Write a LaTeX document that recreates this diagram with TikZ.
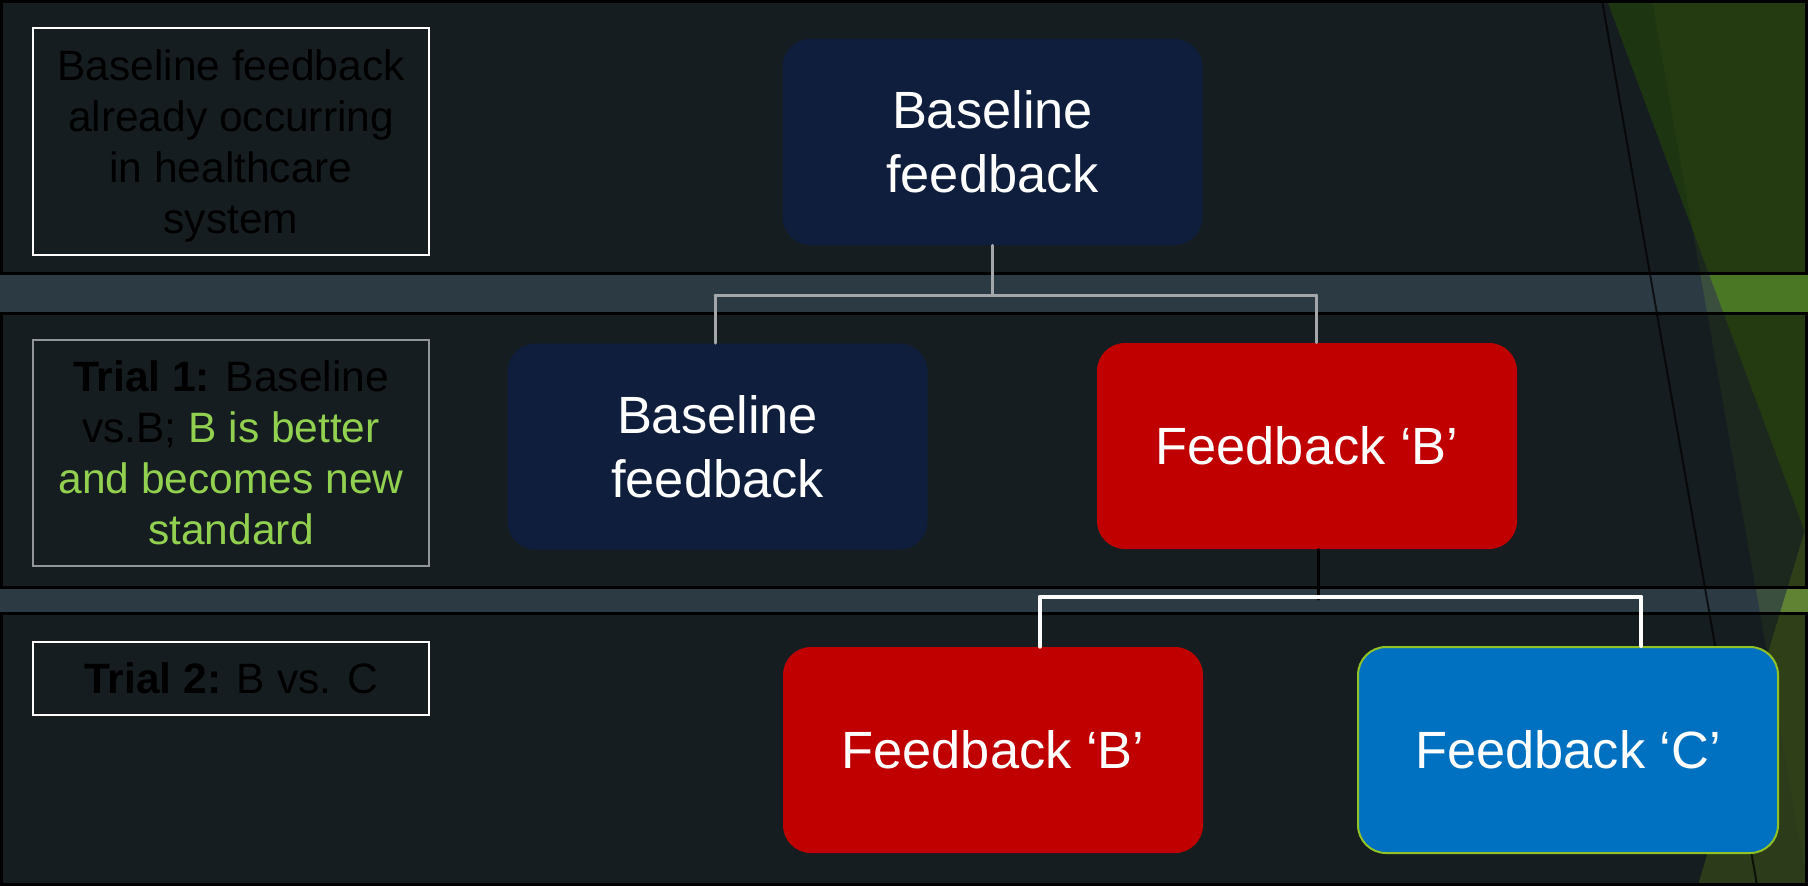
\documentclass[tikz,border=0pt]{standalone}
\usepackage{fontspec}
\setmainfont{Liberation Sans}
\definecolor{bgc}{HTML}{2C3B43}
\definecolor{tgreen}{HTML}{3D6B23}
\definecolor{accent}{HTML}{90C226}
\definecolor{navy}{HTML}{0E1E3C}
\definecolor{redc}{HTML}{C00000}
\definecolor{bluec}{HTML}{0070C0}
\definecolor{lgreen}{HTML}{92D050}
\definecolor{gline}{HTML}{A3A7A9}
\begin{document}
\begin{tikzpicture}[x=0.5pt,y=-0.5pt,
  band/.style={fill=black,fill opacity=0.5,draw=black,draw opacity=1,line width=1.5pt},
  fbox/.style={rounded corners=14pt,minimum width=210pt,minimum height=103pt,align=center,
    text=white,inner sep=0pt,font=\fontsize{26.2}{32}\selectfont},
  lbox/.style={draw=white,line width=1pt,minimum width=198pt,align=center,inner sep=0pt,
    text=black,font=\fontsize{21.25}{25.5}\selectfont},
  grayconn/.style={draw=gline,line width=1.5pt,line cap=round},
  whiteconn/.style={draw=white,line width=2pt,line cap=round},
  blackconn/.style={draw=black,line width=1.5pt,line cap=round}]
\useasboundingbox (0,0) rectangle (1808,885);
\fill[bgc] (0,0) rectangle (1808,885);
% decorative triangles
\fill[tgreen] (1607,0) -- (1808,0) -- (1808,540) -- cycle;
\fill[accent,opacity=0.15] (1652,0) -- (1808,0) -- (1808,885) -- cycle;
\fill[accent,opacity=0.45] (1808,520) -- (1808,885) -- (1698,885) -- cycle;
\draw[black,opacity=0.7,line width=1pt] (1602,0) -- (1757,885);
% bands
\path[band] (1.5,1.5) rectangle (1806.5,273);
\path[band] (1.5,313) rectangle (1806.5,587);
\path[band] (1.5,613) rectangle (1806.5,884);
% left boxes
\node[lbox,minimum height=113.5pt] (lb1) at (231,141.5)
  {Baseline feedback\\already occurring\\in healthcare\\\raisebox{0pt}[\height][0pt]{system}};
\node[lbox,draw=gline!90!black,minimum height=113pt] (lb2) at (231,453)
  {\textbf{Trial 1:} Baseline\\vs.B; \textcolor{lgreen}{B is better}\\\textcolor{lgreen}{and becomes new}\\\textcolor{lgreen}{standard}};
\node[lbox,minimum height=36.5pt] (lb3) at (231,678.5) {\textbf{Trial 2:} B vs. C};
% main nodes
\node[fbox,fill=navy] (top) at (992.5,142) {Baseline\\feedback};
\node[fbox,fill=navy] (b1) at (717.5,446.5) {Baseline\\feedback};
\node[fbox,fill=redc] (fb1) at (1307,446) {Feedback ‘B’};
\node[fbox,fill=redc] (fb2) at (993,750) {Feedback ‘B’};
\node[fbox,fill=bluec,draw=accent,line width=1pt] (fc) at (1568,750) {Feedback ‘C’};
% connectors
\coordinate (j1L) at (715,295);
\coordinate (j1R) at (1316,295);
\draw[grayconn] (top.south) -- (top.south |- j1L);
\draw[grayconn] (j1L) -- (j1R);
\draw[grayconn] (j1L) -- (j1L |- b1.north);
\draw[grayconn] (j1R) -- (j1R |- fb1.north);
\coordinate (j2) at (1318,599);
\coordinate (j2L) at (1040,597);
\coordinate (j2R) at (1641,597);
\draw[blackconn] (fb1.south -| j2) -- (j2);
\draw[whiteconn] (j2L) -- (j2R);
\draw[whiteconn] (j2L) -- (j2L |- fb2.north);
\draw[whiteconn] (j2R) -- (j2R |- fc.north);
\end{tikzpicture}
\end{document}
